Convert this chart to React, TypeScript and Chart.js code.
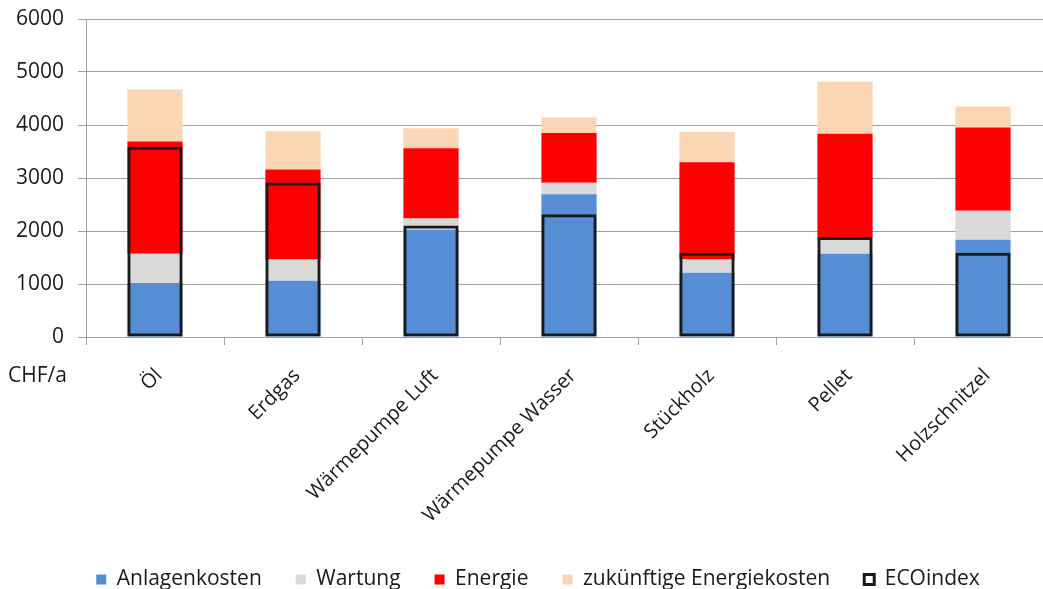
import { useEffect, useRef } from 'react';
import { Chart, registerables } from 'chart.js';

Chart.register(...registerables);

const categories = ['Öl', 'Erdgas', 'Wärmepumpe Luft', 'Wärmepumpe Wasser', 'Stückholz', 'Pellet', 'Holzschnitzel'];
const anlagenkosten = [1020, 1060, 2025, 2695, 1210, 1570, 1835];
const wartung = [550, 400, 210, 215, 250, 305, 545];
const energie = [2120, 1700, 1325, 940, 1835, 1960, 1575];
const zukuenftigeEnergiekosten = [980, 720, 380, 290, 580, 980, 395];
const ecoIndex = [3590, 2915, 2105, 2315, 1590, 1885, 1590];
const yTicks = [0, 1000, 2000, 3000, 4000, 5000, 6000];
const unitLabel = 'CHF/a';

const FONT = '"Open Sans", sans-serif';
const TEXT = '#1a1a1a';
const GRID = '#a0a0a0';

export default function App() {
  const ref = useRef<HTMLCanvasElement>(null);

  useEffect(() => {
    if (!ref.current) return;
    const unitPlugin = {
      id: 'unitLabel',
      afterLayout(chart: any) {
        if (chart.legend) {
          chart.legend.left += 12;
          chart.legend.right += 12;
        }
      },
      afterDraw(chart: any) {
        const ctx = chart.ctx;
        ctx.save();
        ctx.font = `21px ${FONT}`;
        ctx.fillStyle = TEXT;
        ctx.textAlign = 'left';
        ctx.textBaseline = 'middle';
        ctx.fillText(unitLabel, 8, 376);
        ctx.restore();
      },
    };
    const common = { barPercentage: 0.4, categoryPercentage: 1.0, borderWidth: 0, order: 1, stack: 'costs' };
    const chart = new Chart(ref.current, {
      type: 'bar',
      data: {
        labels: categories,
        datasets: [
          { label: 'Anlagenkosten', data: anlagenkosten, backgroundColor: '#558ed5', ...common },
          { label: 'Wartung', data: wartung, backgroundColor: '#d9d9d9', ...common },
          { label: 'Energie', data: energie, backgroundColor: '#ff0000', ...common },
          { label: 'zukünftige Energiekosten', data: zukuenftigeEnergiekosten, backgroundColor: '#fcd5b5', ...common },
          {
            label: 'ECOindex',
            data: ecoIndex,
            backgroundColor: 'rgba(255,255,255,0)',
            borderColor: '#1a1a1a',
            borderWidth: 3,
            borderSkipped: false,
            grouped: false,
            stack: 'eco',
            barPercentage: 0.4,
            categoryPercentage: 1.0,
            order: 0,
          } as any,
        ],
      },
      options: {
        responsive: true,
        maintainAspectRatio: false,
        animation: false,
        layout: { padding: { top: 19, left: 0, right: 0, bottom: 0 } },
        plugins: {
          legend: {
            position: 'bottom',
            labels: {
              boxWidth: 10,
              boxHeight: 10,
              padding: 34,
              color: TEXT,
              font: { family: FONT, size: 21 },
              sort: (a: any, b: any) => a.datasetIndex - b.datasetIndex,
            },
          },
          tooltip: { enabled: false },
        },
        scales: {
          x: {
            stacked: true,
            offset: true,
            grid: { drawOnChartArea: false, drawTicks: true, tickLength: 8, color: GRID, offset: true },
            border: { color: GRID },
            ticks: { maxRotation: 45, minRotation: 45, autoSkip: false, color: TEXT, font: { family: FONT, size: 20 }, padding: 19, labelOffset: 4 },
            afterFit: (s: any) => { s.height = 198; s.paddingLeft = 0; s.paddingRight = 0; },
          },
          y: {
            stacked: true,
            min: 0,
            max: 6000,
            afterBuildTicks: (s: any) => { s.ticks = yTicks.map((v) => ({ value: v })); },
            ticks: { color: TEXT, font: { family: FONT, size: 21 }, padding: 14, callback: (v: any) => String(v) },
            grid: { color: GRID, tickLength: 8 },
            border: { color: GRID },
            afterFit: (s: any) => { s.width = 86; s.paddingTop = 0; s.paddingBottom = 0; },
          },
        },
      } as any,
      plugins: [unitPlugin],
    });
    return () => chart.destroy();
  }, []);

  return (
    <div style={{ position: 'fixed', left: 0, top: 0, width: 1043, height: 589, overflow: 'hidden', background: '#fff' }}>
      <div style={{ position: 'relative', width: 1052, height: 600 }}>
        <canvas ref={ref} />
      </div>
    </div>
  );
}
